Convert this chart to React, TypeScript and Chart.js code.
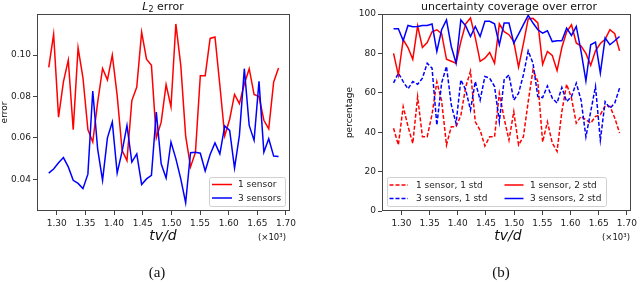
import React, { useEffect, useRef } from "react";
import { Chart, registerables } from "chart.js";

Chart.register(...registerables);

// time axis tv/d (x10^3)
const tvd = [
  1.286, 1.2945, 1.3031, 1.3116, 1.3201, 1.3287, 1.3372, 1.3457, 1.3543, 1.3628,
  1.3713, 1.3799, 1.3884, 1.3969, 1.4054, 1.414, 1.4225, 1.431, 1.4396, 1.4481,
  1.4566, 1.4652, 1.4737, 1.4822, 1.4908, 1.4993, 1.5078, 1.5164, 1.5249, 1.5334,
  1.542, 1.5505, 1.559, 1.5676, 1.5761, 1.5846, 1.5931, 1.6017, 1.6102, 1.6187,
  1.6273, 1.6358, 1.6443, 1.6529, 1.6614, 1.6699, 1.6785, 1.687,
];

// (a) L2 error
const err1Sensor = [
  0.094, 0.11, 0.07, 0.087, 0.0975, 0.064, 0.1035, 0.089, 0.064, 0.058,
  0.077, 0.0935, 0.088, 0.1, 0.0805, 0.054, 0.049, 0.078, 0.0845, 0.111,
  0.098, 0.095, 0.06, 0.0676, 0.0857, 0.075, 0.115, 0.095, 0.061, 0.046,
  0.053, 0.09, 0.09, 0.108, 0.1087, 0.0854, 0.061, 0.069, 0.081, 0.0765,
  0.086, 0.0934, 0.081, 0.08, 0.0685, 0.0644, 0.087, 0.0937,
];
const err3Sensors = [
  0.043, 0.045, 0.048, 0.0505, 0.046, 0.0395, 0.038, 0.0355, 0.0425, 0.0826,
  0.0547, 0.0395, 0.06, 0.0676, 0.043, 0.0535, 0.066, 0.0483, 0.0523, 0.0375,
  0.0402, 0.0419, 0.0725, 0.0475, 0.0406, 0.058, 0.05, 0.0402, 0.0287, 0.0528,
  0.0531, 0.0526, 0.044, 0.052, 0.0576, 0.0523, 0.0657, 0.0636, 0.0454, 0.0612,
  0.0934, 0.066, 0.0588, 0.0873, 0.0531, 0.0596, 0.0512, 0.051,
];

// (b) uncertainty coverage (percentage)
const cov1Sensor1Std = [
  42, 33.5, 53, 43, 34.3, 58, 37.7, 37.7, 49, 65.6,
  56, 33.5, 42.8, 42.8, 48.5, 63, 71, 45.3, 41, 33,
  37.7, 37.7, 59.8, 47, 36, 50.4, 33.5, 37.7, 55.5, 71.6,
  65.7, 35, 45.3, 34.5, 30.3, 50.4, 64.4, 57.3, 44.6, 48,
  46.3, 44.6, 48, 48.9, 53.2, 53.2, 47.2, 39.6,
];
const cov3Sensors1Std = [
  65, 70, 65.7, 62, 65.7, 64.3, 67.4, 75, 72.5, 43.6,
  65, 73.4, 54, 44.4, 66.6, 61.5, 51.3, 65.7, 56.3, 68.3,
  67.4, 63.2, 45.3, 66.6, 69.1, 56.3, 59.8, 69.1, 81.3, 75,
  58.1, 57.6, 63.5, 57.3, 54.8, 62.7, 55.5, 58.1, 64.9, 56.3,
  37.7, 50.4, 63.2, 36, 55.5, 52.1, 54.8, 62.4,
];
const cov1Sensor2Std = [
  80, 69, 87, 83, 77, 94, 83, 85.5, 91, 92,
  90, 77, 76, 75, 86, 95, 98, 88, 76, 77.6,
  80.5, 75, 95, 91, 89.5, 86, 73, 85, 97.5, 97.8,
  95.5, 74.5, 81, 79, 71.3, 83, 91, 94.5, 85.3, 83.7,
  80, 74, 81.3, 85, 87.2, 92, 90, 81.3,
];
const cov3Sensors2Std = [
  92.5, 92.5, 86.5, 94.2, 93.5, 93.7, 94.2, 94.2, 94.9, 81,
  92, 97, 83.5, 75, 97, 94, 88.6, 93.7, 88.6, 96.3,
  96.3, 95, 84.4, 95.4, 95.4, 85.2, 89.8, 94.6, 99.3, 95.4,
  92, 90.3, 91.5, 86, 86.4, 86.4, 92.8, 89.1, 93.7, 81,
  66, 84.4, 85.7, 70, 87.8, 84.4, 86.4, 88.6,
];

const xTicks = [1.3, 1.35, 1.4, 1.45, 1.5, 1.55, 1.6, 1.65, 1.7];
const errTicks = [0.04, 0.06, 0.08, 0.1];
const pctTicks = [0, 20, 40, 60, 80, 100];

const RED = "#ff0000";
const BLUE = "#0000ff";
const FONT = "DejaVu Sans";

type LegendEntry = { label: string; color: string; dash: number[]; x1: number; x2: number; tx: number; y: number };
type Deco = {
  title: (ctx: CanvasRenderingContext2D) => void;
  yLabel: { text: string; x: number };
  xLabelX: number;
  expX: number;
  panel: { text: string; x: number };
  legendBox: [number, number, number, number];
  legend: LegendEntry[];
};

function decoPlugin(d: Deco) {
  return {
    id: "deco",
    afterDraw(chart: any) {
      const ctx: CanvasRenderingContext2D = chart.ctx;
      const a = chart.chartArea;
      ctx.save();
      // frame
      ctx.setLineDash([]);
      ctx.strokeStyle = "#444";
      ctx.lineWidth = 1;
      ctx.strokeRect(Math.round(a.left) + 0.5, Math.round(a.top) + 0.5, Math.round(a.right - a.left) - 1, Math.round(a.bottom - a.top) - 1);
      // legend
      const [bx, by, bw, bh] = d.legendBox;
      ctx.fillStyle = "rgba(255,255,255,0.85)";
      ctx.strokeStyle = "#d0d0d0";
      ctx.beginPath();
      (ctx as any).roundRect(bx + 0.5, by + 0.5, bw, bh, 2);
      ctx.fill();
      ctx.stroke();
      ctx.font = `9px "${FONT}"`;
      ctx.textBaseline = "middle";
      ctx.textAlign = "left";
      for (const e of d.legend) {
        ctx.strokeStyle = e.color;
        ctx.lineWidth = 1.5;
        ctx.setLineDash(e.dash);
        ctx.beginPath();
        ctx.moveTo(e.x1, e.y);
        ctx.lineTo(e.x2, e.y);
        ctx.stroke();
        ctx.setLineDash([]);
        ctx.fillStyle = "#222";
        ctx.fillText(e.label, e.tx, e.y + 0.5);
      }
      // title
      ctx.fillStyle = "#111";
      d.title(ctx);
      // y label
      ctx.save();
      ctx.translate(d.yLabel.x, (a.top + a.bottom) / 2);
      ctx.rotate(-Math.PI / 2);
      ctx.font = `9px "${FONT}"`;
      ctx.textAlign = "center";
      ctx.textBaseline = "middle";
      ctx.fillStyle = "#111";
      ctx.fillText(d.yLabel.text, 0, 0);
      ctx.restore();
      // x label
      ctx.font = `italic 14px "${FONT}"`;
      ctx.textAlign = "center";
      ctx.textBaseline = "middle";
      ctx.fillStyle = "#111";
      ctx.fillText("tv/d", d.xLabelX, 236);
      ctx.font = `8.5px "${FONT}"`;
      ctx.fillText("(×10³)", d.expX, 238);
      // panel label
      ctx.font = `15px "Liberation Serif"`;
      ctx.fillText(d.panel.text, d.panel.x, 273.5);
      ctx.restore();
    },
  };
}

function scales(yMin: number, yMax: number, yTicks: number[], yFmt: (v: number) => string, yWidth: number) {
  const tickFont = { family: FONT, size: 9 };
  return {
    x: {
      type: "linear",
      min: 1.2655,
      max: 1.707,
      afterBuildTicks: (s: any) => {
        s.ticks = xTicks.map((v) => ({ value: v }));
      },
      afterFit: (s: any) => {
        s.height = 71;
      },
      grid: { display: true, drawOnChartArea: false, drawTicks: true, tickLength: 4, color: "#444" },
      border: { display: false },
      ticks: { autoSkip: false, maxRotation: 0, padding: 3, color: "#222", font: tickFont, callback: (v: any) => Number(v).toFixed(2) },
    },
    y: {
      type: "linear",
      min: yMin,
      max: yMax,
      afterBuildTicks: (s: any) => {
        s.ticks = yTicks.map((v) => ({ value: v }));
      },
      afterFit: (s: any) => {
        s.width = yWidth;
      },
      grid: { display: true, drawOnChartArea: false, drawTicks: true, tickLength: 4, color: "#444" },
      border: { display: false },
      ticks: { autoSkip: false, padding: 2, color: "#222", font: tickFont, callback: (v: any) => yFmt(Number(v)) },
    },
  };
}

function series(label: string, ys: number[], color: string, dash: number[]) {
  return {
    label,
    data: tvd.map((x, i) => ({ x, y: ys[i] })),
    borderColor: color,
    backgroundColor: color,
    borderWidth: 1.5,
    borderDash: dash,
    pointRadius: 0,
    fill: false,
    tension: 0,
  };
}

const DASH = [4, 2];

export default function App() {
  const leftRef = useRef<HTMLCanvasElement | null>(null);
  const rightRef = useRef<HTMLCanvasElement | null>(null);

  useEffect(() => {
    const left = new Chart(leftRef.current as HTMLCanvasElement, {
      type: "line",
      data: {
        datasets: [
          series("3 sensors", err3Sensors, BLUE, []),
          series("1 sensor", err1Sensor, RED, []),
        ],
      },
      options: {
        animation: false,
        responsive: false,
        maintainAspectRatio: false,
        layout: { padding: { left: 0, top: 14, right: 30, bottom: 0 } },
        plugins: { legend: { display: false }, tooltip: { enabled: false }, title: { display: false } },
        scales: scales(0.0247, 0.1198, errTicks, (v) => v.toFixed(2), 37) as any,
      },
      plugins: [
        decoPlugin({
          title: (ctx) => {
            const f1 = `italic 11px "${FONT}"`;
            const f2 = `8px "${FONT}"`;
            const f3 = `11px "${FONT}"`;
            ctx.font = f1;
            const w1 = ctx.measureText("L").width;
            ctx.font = f2;
            const w2 = ctx.measureText("2").width;
            ctx.font = f3;
            const w3 = ctx.measureText(" error").width;
            let x = 163 - (w1 + w2 + w3) / 2;
            ctx.textAlign = "left";
            ctx.textBaseline = "alphabetic";
            ctx.font = f1;
            ctx.fillText("L", x, 10);
            x += w1;
            ctx.font = f2;
            ctx.fillText("2", x, 12);
            x += w2;
            ctx.font = f3;
            ctx.fillText(" error", x, 10);
          },
          yLabel: { text: "error", x: 4.5 },
          xLabelX: 163,
          expX: 272,
          panel: { text: "(a)", x: 157 },
          legendBox: [209, 177, 76, 29],
          legend: [
            { label: "1 sensor", color: RED, dash: [], x1: 212, x2: 232, tx: 238, y: 184.5 },
            { label: "3 sensors", color: BLUE, dash: [], x1: 212, x2: 232, tx: 238, y: 198 },
          ],
        }),
      ],
    } as any);

    const right = new Chart(rightRef.current as HTMLCanvasElement, {
      type: "line",
      data: {
        datasets: [
          series("3 sensors, 2 std", cov3Sensors2Std, BLUE, []),
          series("1 sensor, 2 std", cov1Sensor2Std, RED, []),
          series("3 sensors, 1 std", cov3Sensors1Std, BLUE, DASH),
          series("1 sensor, 1 std", cov1Sensor1Std, RED, DASH),
        ],
      },
      options: {
        animation: false,
        responsive: false,
        maintainAspectRatio: false,
        layout: { padding: { left: 0, top: 14, right: 6, bottom: 0 } },
        plugins: { legend: { display: false }, tooltip: { enabled: false }, title: { display: false } },
        scales: scales(0, 100, pctTicks, (v) => String(Math.round(v)), 62) as any,
      },
      plugins: [
        decoPlugin({
          title: (ctx) => {
            ctx.font = `11px "${FONT}"`;
            ctx.textAlign = "center";
            ctx.textBaseline = "alphabetic";
            ctx.fillText("uncertainty coverage over error", 189, 10);
          },
          yLabel: { text: "percentage", x: 30 },
          xLabelX: 188,
          expX: 296,
          panel: { text: "(b)", x: 181 },
          legendBox: [67, 177, 219, 29],
          legend: [
            { label: "1 sensor, 1 std", color: RED, dash: DASH, x1: 69.5, x2: 88, tx: 96, y: 185 },
            { label: "3 sensors, 1 std", color: BLUE, dash: DASH, x1: 69.5, x2: 88, tx: 96, y: 198.5 },
            { label: "1 sensor, 2 std", color: RED, dash: [], x1: 184.5, x2: 203.5, tx: 210, y: 185 },
            { label: "3 sensors, 2 std", color: BLUE, dash: [], x1: 184.5, x2: 203.5, tx: 210, y: 198.5 },
          ],
        }),
      ],
    } as any);

    return () => {
      left.destroy();
      right.destroy();
    };
  }, []);

  return (
    <div style={{ position: "fixed", left: 0, top: 0, width: 640, height: 282, background: "#fff", display: "flex" }}>
      <canvas ref={leftRef} width={320} height={282} style={{ width: 320, height: 282, display: "block" }} />
      <canvas ref={rightRef} width={320} height={282} style={{ width: 320, height: 282, display: "block" }} />
    </div>
  );
}
